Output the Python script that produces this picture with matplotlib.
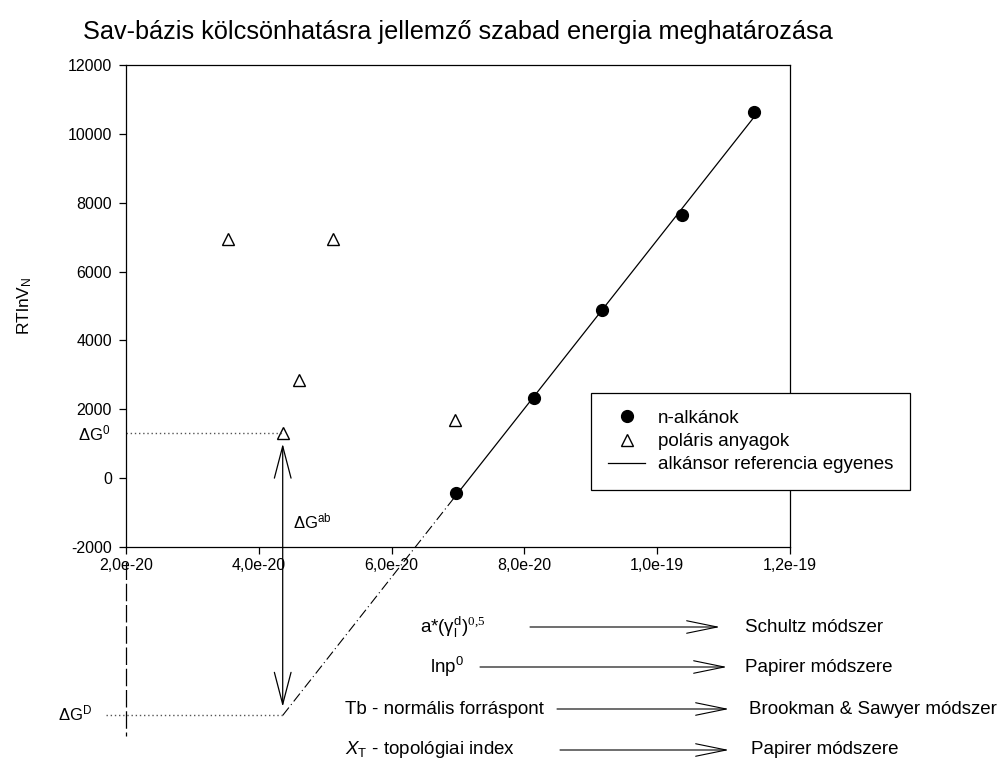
import numpy as np
import matplotlib
matplotlib.use("Agg")
import matplotlib.pyplot as plt

plt.rcParams['font.family'] = ['Liberation Sans', 'DejaVu Sans']
plt.rcParams['mathtext.fontset'] = 'custom'
plt.rcParams['mathtext.rm'] = 'Liberation Sans'
plt.rcParams['mathtext.it'] = 'Liberation Sans:italic'
plt.rcParams['mathtext.bf'] = 'Liberation Sans:bold'
plt.rcParams['mathtext.tt'] = 'Liberation Serif'

# ---------------- data ----------------
title = "Sav-bázis kölcsönhatásra jellemző szabad energia meghatározása"
y_label = "RTlnV$_\\mathregular{N}$"
alkane_x = [6.97e-20, 8.14e-20, 9.17e-20, 1.037e-19, 1.146e-19]
alkane_y = [-420, 2320, 4870, 7650, 10640]
polar_x = [3.54e-20, 5.12e-20, 4.61e-20, 6.95e-20, 4.36e-20]
polar_y = [6950, 6950, 2840, 1680, 1300]
ref_index = 4  # polar point used for the ΔG construction
x_ticks = [2e-20, 4e-20, 6e-20, 8e-20, 1e-19, 1.2e-19]
x_tick_labels = ["2,0e-20", "4,0e-20", "6,0e-20", "8,0e-20", "1,0e-19", "1,2e-19"]
y_ticks = [-2000, 0, 2000, 4000, 6000, 8000, 10000, 12000]
legend_labels = ["n-alkánok", "poláris anyagok", "alkánsor referencia egyenes"]
method_params = ["a*(γ$_\\mathregular{l}^\\mathregular{d}$)$^\\mathtt{0{,}5}$",
                 "lnp$^\\mathregular{0}$",
                 "Tb - normális forráspont",
                 "$X_\\mathregular{T}$ - topológiai index"]
method_names = ["Schultz módszer", "Papirer módszere",
                "Brookman & Sawyer módszer", "Papirer módszere"]

W, H = 998, 764
fig = plt.figure(figsize=(W / 100, H / 100), dpi=100)
ax = fig.add_axes([126 / W, 1 - 547 / H, (790 - 126) / W, (547 - 65) / H])

# reference line (linear fit of the alkanes)
slope, intercept = np.polyfit(alkane_x, alkane_y, 1)
xs = np.array([min(alkane_x), max(alkane_x)])
line, = ax.plot(xs, slope * xs + intercept, color='black', lw=0.9)
rx = polar_x[ref_index]
ry = polar_y[ref_index]
dGD = slope * rx + intercept
xe = np.array([rx, min(alkane_x)])
ax.plot(xe, slope * xe + intercept, color='black', lw=0.8,
        ls=(0, (9, 3, 1, 3)), clip_on=False)

pts1, = ax.plot(alkane_x, alkane_y, 'o', color='black', ms=8.5, ls='none')
pts2, = ax.plot(polar_x, polar_y, '^', mfc='white', mec='black', mew=1.0,
                ms=9, ls='none')

ax.set_xlim(x_ticks[0], x_ticks[-1])
ax.set_ylim(y_ticks[0], y_ticks[-1])
ax.set_xticks(x_ticks)
ax.set_xticklabels(x_tick_labels)
ax.set_yticks(y_ticks)
ax.set_yticklabels([str(v) for v in y_ticks])
ax.tick_params(direction='out', length=5, width=0.9, labelsize=11.5, colors='black')
ax.tick_params(axis='x', pad=3)
ax.tick_params(axis='y', pad=5)
for s in ax.spines.values():
    s.set_linewidth(0.9)
ax.set_ylabel(y_label, fontsize=12.5, labelpad=24)
ax.set_title(title, fontsize=18.2, pad=19)

# ΔG construction
x0 = x_ticks[0]
ax.plot([x0, rx], [ry, ry], color='#555555', lw=1.0, ls=(0, (1, 2)), clip_on=False)
ax.plot([x0 - 0.3e-20, rx], [dGD, dGD], color='#555555', lw=1.0, ls=(0, (1, 2)),
        clip_on=False)
ax.plot([x0, x0], [y_ticks[0] - 450, dGD - 600], color='black', lw=0.9,
        ls=(0, (14, 3)), clip_on=False)
ax.annotate('', xy=(rx, ry - 300), xytext=(rx, dGD + 250),
            arrowprops=dict(arrowstyle='<->,head_length=2.3,head_width=0.6',
                            mutation_scale=10, lw=0.9, color='black',
                            shrinkA=0, shrinkB=0), annotation_clip=False)
ax.annotate("ΔG$^\\mathregular{0}$", xy=(x0, ry), xytext=(-16, 0),
            textcoords='offset pixels', ha='right', va='center', fontsize=12,
            annotation_clip=False)
ax.annotate("ΔG$^\\mathregular{D}$", xy=(x0, dGD), xytext=(-34, 2),
            textcoords='offset pixels', ha='right', va='center', fontsize=12,
            annotation_clip=False)
ax.annotate("ΔG$^\\mathregular{ab}$", xy=(rx, (ry + y_ticks[0]) / 2 - 900), xytext=(10, 0),
            textcoords='offset pixels', ha='left', va='center', fontsize=12,
            annotation_clip=False)

# legend
leg = ax.legend([pts1, pts2, line], legend_labels, loc='upper left',
                bbox_to_anchor=(591 / W, 1 - 393 / H), bbox_transform=fig.transFigure,
                borderaxespad=0, fontsize=13.5, frameon=True, fancybox=False,
                edgecolor='black', framealpha=1, handlelength=2.0,
                handletextpad=0.65, labelspacing=0.32, borderpad=0.9)
leg.get_frame().set_linewidth(0.9)

# method rows at bottom
rows_y = [627, 667, 709, 750]
left_x = [420, 430, 345, 345]
arr_start = [530, 480, 557, 560]
arr_end = [720, 727, 729, 729]
name_x = [745, 745, 749, 751]
for i in range(4):
    yy = H - rows_y[i]
    fig.text(left_x[i] / W, yy / H, method_params[i], ha='left', va='center',
             fontsize=13.5)
    ax.annotate('', xy=(arr_end[i], yy), xytext=(arr_start[i], yy),
                xycoords='figure pixels', textcoords='figure pixels',
                arrowprops=dict(arrowstyle='->,head_length=2.2,head_width=0.45',
                                mutation_scale=10, lw=0.8, color='black',
                                shrinkA=0, shrinkB=0))
    fig.text(name_x[i] / W, yy / H, method_names[i], ha='left', va='center',
             fontsize=13.5)

fig.savefig('out.png', dpi=100)
